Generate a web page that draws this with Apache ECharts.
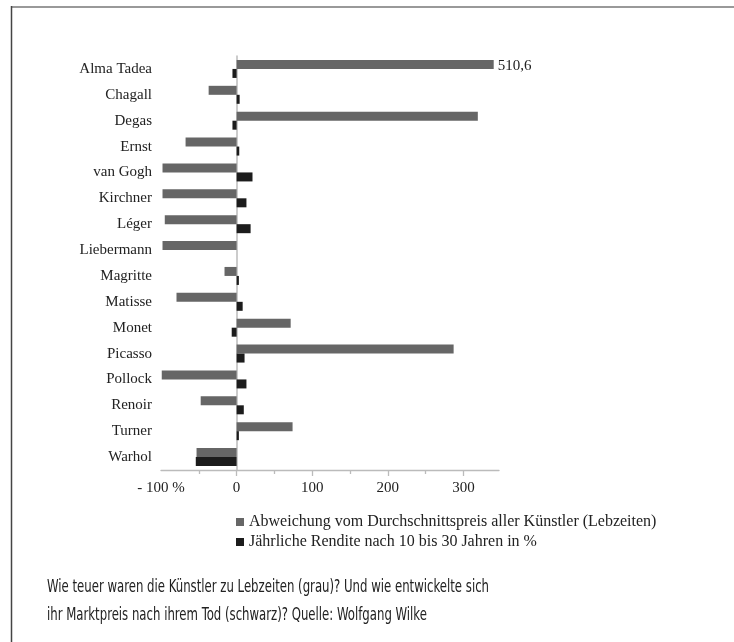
<!doctype html>
<html>
    <head>
        <meta charset="utf-8">
        <title>Künstler – Preis zu Lebzeiten und Rendite</title>
        <style>
            html, body { margin: 0; padding: 0; background: #fff; }
            #main { width: 734px; height: 642px; }
        </style>
    </head>
    <body>
        <div id="main"></div>
        <script src="https://cdn.jsdelivr.net/npm/echarts@6/dist/echarts.min.js"></script>
        <script>
            var artists = ['Alma Tadea', 'Chagall', 'Degas', 'Ernst', 'van Gogh', 'Kirchner', 'Léger',
                'Liebermann', 'Magritte', 'Matisse', 'Monet', 'Picasso', 'Pollock', 'Renoir', 'Turner', 'Warhol'];

            // grau: Abweichung vom Durchschnittspreis aller Künstler (Lebzeiten)
            var deviation = [510.6, -37, 319, -67.5, -98, -98, -95, -98, -16, -79.5, 71.5, 287, -99, -47.5, 74, -53];
            // schwarz: jährliche Rendite nach 10 bis 30 Jahren in %
            var annualReturn = [-5.5, 4, -5.5, 3.5, 21, 13, 18.5, 0, 3, 8, -6.5, 10.5, 13, 9.5, 3, -54];

            var seriesNames = [
                'Abweichung vom Durchschnittspreis aller Künstler (Lebzeiten)',
                'Jährliche Rendite nach 10 bis 30 Jahren in %'
            ];

            var xLabelValues = [-100, 0, 100, 200, 300];
            var majorTicks = [0, 100, 200, 300];
            var minorTicks = [-50, 50, 150, 250];

            var captionLines = [
                'Wie teuer waren die Künstler zu Lebzeiten (grau)? Und wie entwickelte sich',
                'ihr Marktpreis nach ihrem Tod (schwarz)? Quelle: Wolfgang Wilke'
            ];

            // bars longer than this are cut off (axis break), value is written next to them
            var BREAK_AT = 340;

            var serif = "'Liberation Serif', 'DejaVu Serif', serif";
            var captionFont = "18px 'Liberation Sans Narrow', 'DejaVu Sans Condensed', Roboto, sans-serif";

            // the caption font in the print is very narrow; squeeze ours to the same width
            var ctx = document.createElement('canvas').getContext('2d');
            ctx.font = captionFont;
            var squeeze = 442 / ctx.measureText(captionLines[0]).width;

            var grayData = deviation.map(function (v) {
                if (v > BREAK_AT) {
                    return {
                        value: BREAK_AT,
                        label: {
                            show: true,
                            position: 'right',
                            distance: 4,
                            offset: [0, 2],
                            formatter: String(v).replace('.', ','),
                            fontFamily: serif,
                            fontSize: 15,
                            color: '#222'
                        }
                    };
                }
                return v;
            });

            var chart = echarts.init(document.getElementById('main'));

            chart.setOption({
                animation: false,
                backgroundColor: '#fff',
                grid: {
                    left: 161,
                    right: 235,
                    top: 56,
                    bottom: 172
                },
                legend: {
                    orient: 'vertical',
                    left: 236,
                    top: 514,
                    padding: 0,
                    itemWidth: 8,
                    itemHeight: 8,
                    itemGap: 4,
                    icon: 'rect',
                    data: seriesNames,
                    textStyle: {
                        fontFamily: serif,
                        fontSize: 16,
                        color: '#222'
                    }
                },
                xAxis: [
                    {
                        type: 'value',
                        position: 'bottom',
                        min: -100,
                        max: 347,
                        splitLine: { show: false },
                        axisLine: {
                            show: true,
                            lineStyle: { color: '#bbb', width: 1.3 }
                        },
                        axisTick: {
                            show: true,
                            length: 4,
                            customValues: minorTicks,
                            lineStyle: { color: '#bbb', width: 1.3 }
                        },
                        axisLabel: {
                            customValues: xLabelValues,
                            margin: 11,
                            fontFamily: serif,
                            fontSize: 15,
                            color: '#222',
                            formatter: function (v) {
                                return v < 0 ? '- ' + Math.abs(v) + ' %' : String(v);
                            }
                        }
                    },
                    {
                        type: 'value',
                        position: 'bottom',
                        min: -100,
                        max: 347,
                        splitLine: { show: false },
                        axisLine: { show: false },
                        axisTick: {
                            show: true,
                            length: 6,
                            customValues: majorTicks,
                            lineStyle: { color: '#bbb', width: 1.3 }
                        },
                        axisLabel: { show: false }
                    }
                ],
                yAxis: {
                    type: 'category',
                    inverse: true,
                    data: artists,
                    axisLine: {
                        show: true,
                        onZero: true,
                        onZeroAxisIndex: 0,
                        lineStyle: { color: '#bbb', width: 1.5 }
                    },
                    axisTick: { show: false },
                    axisLabel: {
                        margin: 9,
                        fontFamily: serif,
                        fontSize: 15,
                        color: '#222'
                    }
                },
                series: [
                    {
                        name: seriesNames[0],
                        type: 'bar',
                        xAxisIndex: 0,
                        data: grayData,
                        barWidth: 9,
                        barGap: '0%',
                        itemStyle: { color: '#666666' },
                        z: 1
                    },
                    {
                        name: seriesNames[1],
                        type: 'bar',
                        xAxisIndex: 0,
                        data: annualReturn,
                        barWidth: 9,
                        barGap: '0%',
                        itemStyle: { color: '#1c1c1c' },
                        z: 1
                    }
                ],
                graphic: [
                    {
                        type: 'line',
                        silent: true,
                        shape: { x1: 11, y1: 7, x2: 734, y2: 7 },
                        style: { stroke: '#999', lineWidth: 2 }
                    },
                    {
                        type: 'line',
                        silent: true,
                        shape: { x1: 11.5, y1: 6, x2: 11.5, y2: 642 },
                        style: { stroke: '#444', lineWidth: 1.5 }
                    },
                    {
                        type: 'text',
                        silent: true,
                        x: 47,
                        y: 587,
                        scaleX: squeeze,
                        style: {
                            text: captionLines[0],
                            font: captionFont,
                            fill: '#222',
                            align: 'left',
                            verticalAlign: 'middle'
                        }
                    },
                    {
                        type: 'text',
                        silent: true,
                        x: 47,
                        y: 615,
                        scaleX: squeeze,
                        style: {
                            text: captionLines[1],
                            font: captionFont,
                            fill: '#222',
                            align: 'left',
                            verticalAlign: 'middle'
                        }
                    }
                ]
            });

            window.addEventListener('resize', function () {
                chart.resize();
            });
        </script>
    </body>
</html>
